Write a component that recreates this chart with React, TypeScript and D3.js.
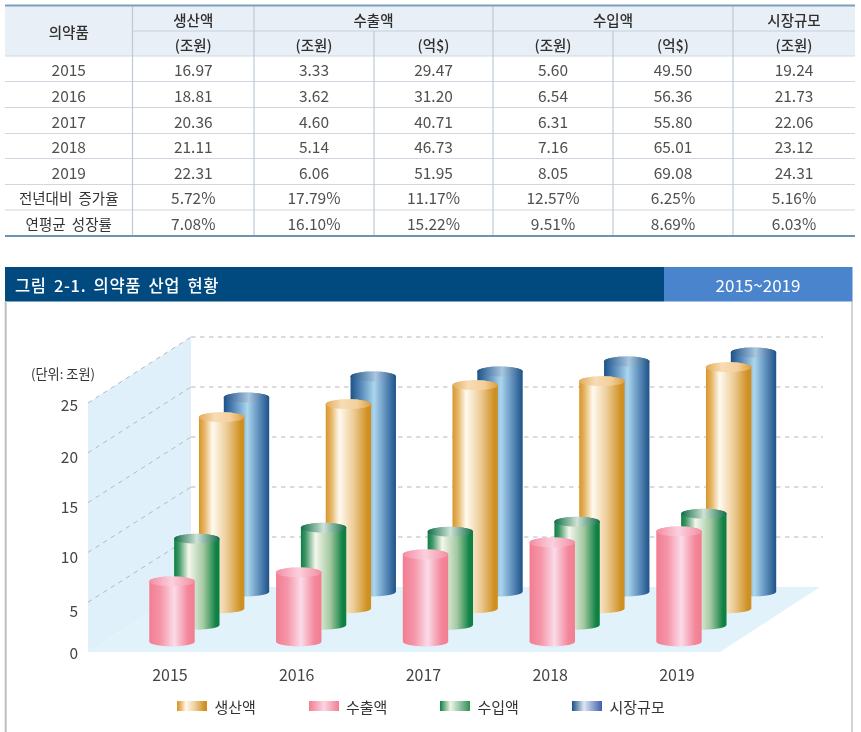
import React from "react";
import * as d3 from "d3";

const FONT = "'Noto Sans CJK KR', 'Noto Sans', sans-serif";

// Table content
const tableRowLabels = ["2015", "2016", "2017", "2018", "2019", "전년대비 증가율", "연평균 성장률"];
const colProductionKrw = ["16.97", "18.81", "20.36", "21.11", "22.31", "5.72%", "7.08%"];
const colExportKrw = ["3.33", "3.62", "4.60", "5.14", "6.06", "17.79%", "16.10%"];
const colExportUsd = ["29.47", "31.20", "40.71", "46.73", "51.95", "11.17%", "15.22%"];
const colImportKrw = ["5.60", "6.54", "6.31", "7.16", "8.05", "12.57%", "9.51%"];
const colImportUsd = ["49.50", "56.36", "55.80", "65.01", "69.08", "6.25%", "8.69%"];
const colMarketKrw = ["19.24", "21.73", "22.06", "23.12", "24.31", "5.16%", "6.03%"];
const tableColumns = [colProductionKrw, colExportKrw, colExportUsd, colImportKrw, colImportUsd, colMarketKrw];
const unitHeaders = ["(조원)", "(조원)", "(억$)", "(조원)", "(억$)", "(조원)"];

// Chart content: bar heights as drawn, read against the axis
const years = ["2015", "2016", "2017", "2018", "2019"];
const plottedProduction = [19.1, 20.4, 22.3, 22.7, 24.1];
const plottedExport = [6.0, 6.9, 8.7, 9.9, 11.0];
const plottedImport = [8.6, 9.7, 9.3, 10.3, 11.1];
const plottedMarket = [19.4, 21.5, 22.0, 23.0, 23.9];
const yTicks = [0, 5, 10, 15, 20, 25];
const seriesNames = ["수출액", "수입액", "생산액", "시장규모"];

const seriesValues: Record<string, number[]> = {
  수출액: plottedExport,
  수입액: plottedImport,
  생산액: plottedProduction,
  시장규모: plottedMarket,
};
const gradientStops: Record<string, [number, string][]> = {
  생산액: [[0, "#d6952a"], [0.12, "#e6b565"], [0.3, "#fffaf0"], [0.62, "#eccb95"], [0.92, "#cf9021"], [1, "#cf9021"]],
  수출액: [[0, "#f27d92"], [0.25, "#f595a8"], [0.55, "#fbdbe8"], [0.85, "#f3879b"], [1, "#f27d92"]],
  수입액: [[0, "#0d7f42"], [0.1, "#3d9564"], [0.32, "#f4f7ec"], [0.65, "#a3c8a0"], [0.92, "#0f8244"], [1, "#0d7f42"]],
  시장규모: [[0, "#1d5288"], [0.2, "#4f82b4"], [0.52, "#abd6ee"], [0.78, "#5c8cba"], [1, "#1d5288"]],
};
const capStops: Record<string, [number, string][]> = {
  생산액: [[0, "#e3ab5a"], [0.35, "#f8dcb4"], [0.7, "#f3cf9c"], [1, "#dc9f3c"]],
  수출액: [[0, "#f58ca2"], [0.5, "#fbd0de"], [1, "#f58ca2"]],
  수입액: [[0, "#0f6d48"], [0.5, "#cfe2d6"], [1, "#0f6d48"]],
  시장규모: [[0, "#1d5288"], [0.55, "#a9c6de"], [1, "#1d5288"]],
};
const legendStops: Record<string, [number, string][]> = {
  생산액: gradientStops["생산액"],
  수출액: [[0, "#f27d92"], [0.5, "#fbd5e2"], [1, "#f27d92"]],
  수입액: [[0, "#0d7f42"], [0.35, "#f0f5e8"], [1, "#2f8f58"]],
  시장규모: [[0, "#1d4f8a"], [0.4, "#dde6f2"], [1, "#3f5fae"]],
};
const legendOrder = ["생산액", "수출액", "수입액", "시장규모"];
const legendLayout: Record<string, { swatch: number; text: number }> = {
  생산액: { swatch: 177, text: 214.5 },
  수출액: { swatch: 309, text: 346 },
  수입액: { swatch: 440, text: 477.5 },
  시장규모: { swatch: 572, text: 609.5 },
};

// Layout
const colEdges = [5, 132.5, 254, 374, 493, 613, 733, 855];
const rowEdges = [5, 31, 56, 81.5, 107.5, 133.5, 158.5, 184.5, 210, 236];
const front = { x: 88, y0: 652 };
const back = { x: 191, y0: 587, right: 823 };
const floorFrontRight = 720;
const rx = 22.7;
const ry = 5;
const tickLabelCentre: Record<number, number> = { 25: 404, 20: 456, 15: 506, 10: 556, 5: 610, 0: 652 };

const heightScale = d3.scaleLinear().domain([0, 25]).range([0, 250]);
const frontY = d3.scaleLinear().domain([0, 25]).range([front.y0, 403]);
const backY = d3.scaleLinear().domain([0, 25]).range([back.y0, 337]);
const xYear = d3.scalePoint<string>().domain(years).range([172, 679]);
const xSeries = d3.scalePoint<string>().domain(seriesNames).range([0, 74.5]);
const baseY = d3.scalePoint<string>().domain(seriesNames).range([641.5, 591.5]);

const Grad = ({ id, stops }: { id: string; stops: [number, string][] }) => (
  <linearGradient id={id} x1="0" x2="1" y1="0" y2="0">
    {stops.map(([o, c], i) => (
      <stop key={i} offset={o} stopColor={c} />
    ))}
  </linearGradient>
);

const Cylinder = ({ name, yearIndex }: { name: string; yearIndex: number }) => {
  const cx = (xYear(years[yearIndex]) as number) + (xSeries(name) as number);
  const bot = baseY(name) as number;
  const top = bot - heightScale(seriesValues[name][yearIndex]);
  const d = `M${cx - rx},${top}L${cx - rx},${bot}A${rx},${ry} 0 0 0 ${cx + rx},${bot}L${cx + rx},${top}A${rx},${ry} 0 0 0 ${cx - rx},${top}Z`;
  return (
    <g>
      <path d={d} fill={`url(#body-${seriesNames.indexOf(name)})`} />
      <ellipse cx={cx} cy={top} rx={rx} ry={ry} fill={`url(#cap-${seriesNames.indexOf(name)})`} />
    </g>
  );
};

export default function App() {
  const textCommon = { fontFamily: FONT, textAnchor: "middle" as const, dominantBaseline: "central" as const };
  const colCentre = (i: number) => (colEdges[i] + colEdges[i + 1]) / 2;
  const rowCentre = (i: number) => (rowEdges[i] + rowEdges[i + 1]) / 2;
  const gridDash = "4.5 4.5";
  const gridColor = "#b4b9bd";

  return (
    <svg width={861} height={732} style={{ position: "absolute", left: 0, top: 0, background: "#fff" }}>
      <defs>
        <filter id="soft" x="0" y="0" width="100%" height="100%" filterUnits="userSpaceOnUse" primitiveUnits="userSpaceOnUse">
          <feGaussianBlur stdDeviation="0.4" />
        </filter>
        {seriesNames.map((n, i) => (
          <React.Fragment key={n}>
            <Grad id={`body-${i}`} stops={gradientStops[n]} />
            <Grad id={`cap-${i}`} stops={capStops[n]} />
            <Grad id={`legend-${i}`} stops={legendStops[n]} />
          </React.Fragment>
        ))}
      </defs>
      <g style={{ filter: "blur(0.4px)" }}>
        <rect x={0} y={0} width={861} height={732} fill="#fff" />

        {/* Table */}
        <rect x={colEdges[0]} y={rowEdges[0]} width={colEdges[7] - colEdges[0]} height={rowEdges[2] - rowEdges[0]} fill="#e9eff6" />
        {rowEdges.slice(3, 9).map((y) => (
          <line key={y} x1={5} x2={855} y1={y} y2={y} stroke="#cfd8e2" strokeWidth={1} />
        ))}
        <line x1={132.5} x2={855} y1={31} y2={31} stroke="#c3d0dd" />
        <line x1={5} x2={855} y1={56} y2={56} stroke="#cfd8e2" />
        {colEdges.slice(1, 7).map((x, i) => (
          <line
            key={x}
            x1={x}
            x2={x}
            y1={i === 2 || i === 4 ? 31 : 5}
            y2={236}
            stroke="#bccad8"
            strokeWidth={1.2}
          />
        ))}
        <line x1={5} x2={855} y1={5.5} y2={5.5} stroke="#7f9fb9" strokeWidth={2} />
        <line x1={5} x2={855} y1={236} y2={236} stroke="#6f93b2" strokeWidth={2} />

        <g fontSize={14.5} fontWeight={500} fill="#2f2f2f" {...textCommon}>
          <text x={colCentre(0)} y={31}>의약품</text>
          <text x={colCentre(1)} y={19}>생산액</text>
          <text x={(colEdges[2] + colEdges[4]) / 2} y={19}>수출액</text>
          <text x={(colEdges[4] + colEdges[6]) / 2} y={19}>수입액</text>
          <text x={colCentre(6)} y={19}>시장규모</text>
          {unitHeaders.map((u, i) => (
            <text key={i} x={colCentre(i + 1)} y={44}>{u}</text>
          ))}
        </g>
        <g fontSize={15.5} fill="#505050" {...textCommon}>
          {tableRowLabels.map((label, r) => (
            <text key={label} x={colCentre(0)} y={rowCentre(r + 2)} fontSize={r > 4 ? 14.5 : 15.5} fill={r > 4 ? "#333" : "#505050"} wordSpacing={r > 4 ? 3 : 0}>
              {label}
            </text>
          ))}
          {tableColumns.map((col, c) =>
            col.map((v, r) => (
              <text key={`${c}-${r}`} x={colCentre(c + 1)} y={rowCentre(r + 2)}>{v}</text>
            ))
          )}
        </g>

        {/* Banner and frame */}
        <rect x={5} y={267} width={659} height={34.5} fill="#004a80" />
        <rect x={664} y={267} width={188.5} height={34.5} fill="#4a84cc" />
        <line x1={5.7} x2={5.7} y1={301} y2={732} stroke="#bdbdbd" strokeWidth={2} />
        <line x1={852} x2={852} y1={301} y2={732} stroke="#a8a8a8" strokeWidth={1} />
        <text x={15} y={284.5} fontFamily={FONT} fontSize={16.5} fontWeight={500} fill="#fff" dominantBaseline="central" wordSpacing={3} letterSpacing={0.65}>
          그림 2-1. 의약품 산업 현황
        </text>
        <text x={758} y={284.5} fontSize={17} fill="#fff" {...textCommon}>2015~2019</text>

        {/* Chart walls */}
        <polygon
          points={`${front.x},${frontY(25)} ${back.x},${backY(25)} ${back.x},${back.y0} ${front.x},${front.y0}`}
          fill="#dff0fa"
        />
        <polygon
          points={`${front.x},${front.y0} ${back.x},${back.y0} ${back.right - 3},${back.y0} ${floorFrontRight},${front.y0}`}
          fill="#e2f2fb"
        />
        {yTicks.filter((t) => t > 0).map((t) => (
          <g key={t} stroke={gridColor} strokeWidth={1} strokeDasharray={gridDash} fill="none">
            <line x1={front.x} y1={frontY(t)} x2={back.x} y2={backY(t)} />
            <line x1={back.x} y1={backY(t)} x2={back.right} y2={backY(t)} />
          </g>
        ))}

        {/* Cylinders */}
        {years.map((y, yi) => (
          <g key={y}>
            {[...seriesNames].reverse().map((n) => (
              <Cylinder key={n} name={n} yearIndex={yi} />
            ))}
          </g>
        ))}

        {/* Axis labels */}
        <text x={31} y={373} fontFamily={FONT} fontSize={13.2} fill="#333" dominantBaseline="central">(단위: 조원)</text>
        {yTicks.map((t) => (
          <text key={t} x={78} y={tickLabelCentre[t]} fontFamily={FONT} fontSize={15.5} fill="#444" textAnchor="end" dominantBaseline="central">
            {t}
          </text>
        ))}
        {years.map((y) => (
          <text key={y} x={(xYear(y) as number) - 2} y={674} fontSize={16} fill="#444" {...textCommon}>{y}</text>
        ))}

        {/* Legend */}
        {legendOrder.map((n) => (
          <g key={n}>
            <rect
              x={legendLayout[n].swatch}
              y={701}
              width={30}
              height={10}
              fill={`url(#legend-${seriesNames.indexOf(n)})`}
            />
            <text x={legendLayout[n].text} y={706} fontFamily={FONT} fontSize={15} fill="#333" dominantBaseline="central">
              {n}
            </text>
          </g>
        ))}
      </g>
    </svg>
  );
}
